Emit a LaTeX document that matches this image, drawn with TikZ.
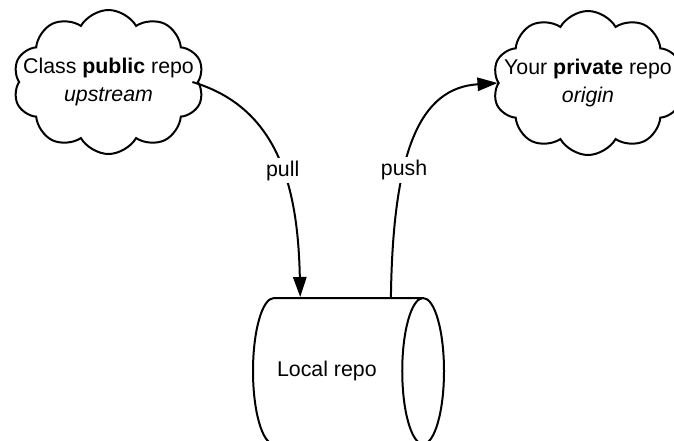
\documentclass[tikz,border=0pt]{standalone}
\usepackage{fontspec}
\setmainfont{Liberation Sans}
\usetikzlibrary{arrows.meta,calc,shapes.symbols,shapes.geometric}

\begin{document}
\begin{tikzpicture}[x=0.75pt,y=-0.75pt,
  font=\fontsize{16}{20.5}\selectfont,
  repo/.style={cloud, draw, line width=1.5pt, cloud puffs=10, cloud puff arc=120,
    cloud ignores aspect, minimum width=143.25pt, minimum height=108pt, inner sep=0pt},
  store/.style={cylinder, draw, line width=1.5pt, aspect=2.1,
    minimum height=143.25pt, minimum width=109.5pt, inner sep=0pt},
  flow/.style={line width=1.5pt, -{Triangle[length=15pt,width=10pt]}},
  lbl/.style={fill=white, inner sep=2pt}]
  \useasboundingbox (0,0) rectangle (674,440);
  % remotes
  \node[repo] (upstream) at (108.5,82)
    {\makebox[0pt]{\begin{tabular}{@{}c@{}}Class \textbf{public} repo\\ \textit{upstream}\end{tabular}}};
  \node[repo] (origin) at (588,83)
    {\makebox[0pt]{\begin{tabular}{@{}c@{}}Your \textbf{private} repo\\ \textit{origin}\end{tabular}}};
  % local clone
  \node[store, anchor=shape center] (local) at (348.5,371) {Local repo\hspace*{16pt}};
  \draw[flow] ([xshift=-5pt]upstream.east) .. controls (280,108) and (298,190) .. node[lbl, pos=0.55] {pull} ([xshift=-28pt]local.north);
  \draw[flow] ([xshift=40pt]local.north) .. controls (393,150) and (420,88) .. node[lbl, pos=0.36] {push} (origin.west);
\end{tikzpicture}
\end{document}
